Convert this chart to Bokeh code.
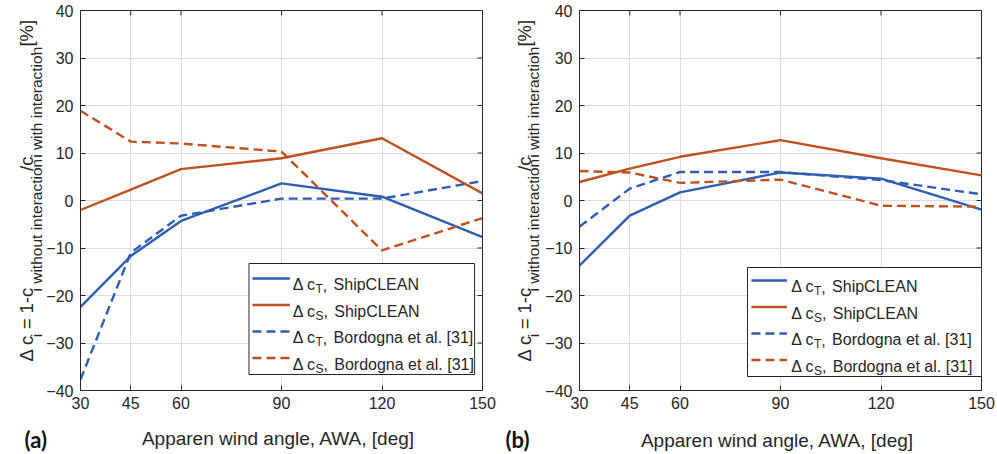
import numpy as np
from bokeh.plotting import figure
from bokeh.models import Range1d, FixedTicker, Label, BoxAnnotation, Arrow
from bokeh.layouts import row, column
from bokeh.embed import file_html
from bokeh.resources import INLINE

# ---------------- data ----------------
awa = [30, 45, 60, 90, 120, 150]
x_ticks = [30, 45, 60, 90, 120, 150]
y_ticks = [-40, -30, -20, -10, 0, 10, 20, 30, 40]

# panel (a)
ct_shipclean_a = [-22.4, -11.7, -4.3, 3.6, 0.8, -7.7]
cs_shipclean_a = [-2.0, 2.3, 6.6, 8.9, 13.1, 1.5]
ct_bordogna_a = [-37.7, -11.0, -3.2, 0.4, 0.4, 4.1]
cs_bordogna_a = [18.9, 12.4, 12.0, 10.3, -10.5, -3.7]

# panel (b)
ct_shipclean_b = [-13.7, -3.2, 1.7, 5.9, 4.6, -1.9]
cs_shipclean_b = [3.9, 6.7, 9.2, 12.7, 8.9, 5.3]
ct_bordogna_b = [-5.5, 2.5, 6.0, 6.0, 4.3, 1.3]
cs_bordogna_b = [6.2, 5.9, 3.7, 4.4, -1.1, -1.3]

legend_subs = ["T", "S", "T", "S"]
legend_sources = ["ShipCLEAN", "ShipCLEAN", "Bordogna et al. [31]", "Bordogna et al. [31]"]
panel_tags = ["(a)", "(b)"]
x_title = "Apparen wind angle, AWA, [deg]"
y_title_parts = [("Δ c", "main"), ("i", "sub"), (" = 1-c", "main"),
                 ("i without interaction", "sub"), ("/c", "main"),
                 ("i with interaction", "sub"), (", [%]", "main")]

# ---------------- style ----------------
BLUE = "#2f5db4"
RED = "#c0501f"
DARK = "#262626"
GRID = "#dcdcdc"
FONT = "Liberation Sans"
LW = 2.4
DASH = "9 5"
TOP_H = 418          # height of the row that holds the two panels
BOT_H = 35           # strip below, for the x titles and panel tags
TOTAL_W = 996
FRAME_TOP = 10
FRAME_BOTTOM = 390

ARIAL = {' ': 278, 'Δ': 667, 'c': 500, 'i': 222, '=': 584, '1': 556, '-': 333, '/': 278,
         'w': 722, 't': 278, 'h': 556, 'o': 556, 'u': 556, 'n': 556, 'e': 556, 'r': 333,
         'a': 556, ',': 278, '[': 278, '%': 889, ']': 278, 'T': 611, 'S': 667, 'l': 222,
         '.': 278, 'B': 667, 'd': 556, 'g': 556, '3': 556, 'p': 556, 'C': 722, 'L': 556,
         'E': 667, 'A': 667, 'N': 722, 'W': 944}


def tw(s, size):
    return sum(ARIAL.get(ch, 556) for ch in s) * size / 1000.0


def blank(left, width, top, height):
    """A figure whose frame is the whole canvas; data units = page pixels."""
    f = figure(width=width, height=height, output_backend="svg", toolbar_location=None,
               x_range=Range1d(left, left + width), y_range=Range1d(top + height, top),
               x_axis_type=None, y_axis_type=None, min_border=0,
               background_fill_color="white", border_fill_color="white")
    f.outline_line_color = None
    f.grid.visible = False
    return f


def ytitle_fig(left, width, main_x, sub_x):
    f = blank(left, width, 0, TOP_H)
    MAIN, SUB = 18.5, 15.5
    total = sum(tw(s, MAIN if k == "main" else SUB) for s, k in y_title_parts)
    pos = (FRAME_TOP + FRAME_BOTTOM) / 2.0 + total / 2.0
    for s, k in y_title_parts:
        size = MAIN if k == "main" else SUB
        stripped = s.lstrip(" ")
        lead = tw(s[:len(s) - len(stripped)], size)
        xb = main_x if k == "main" else sub_x
        f.add_layout(Label(x=xb, y=pos - lead, text=stripped, angle=np.pi / 2,
                           text_font=FONT, text_font_size=f"{size}px", text_color=DARK,
                           text_baseline="alphabetic", text_align="left"))
        pos -= tw(s, size)
    return f


def make_panel(page_left, width, frame_left, frame_right, series, legend_geom):
    p = figure(width=width, height=TOP_H, output_backend="svg", toolbar_location=None,
               x_range=Range1d(30, 150), y_range=Range1d(-40, 40),
               min_border_left=frame_left - page_left,
               min_border_right=page_left + width - frame_right,
               min_border_top=FRAME_TOP,
               min_border_bottom=TOP_H - FRAME_BOTTOM,
               background_fill_color="white", border_fill_color="white")
    p.outline_line_color = DARK
    p.outline_line_width = 1

    fw = float(frame_right - frame_left)
    fh = float(FRAME_BOTTOM - FRAME_TOP)

    def dx(px):
        return 30 + (px - frame_left) / fw * 120.0

    def dy(py):
        return 40 - (py - FRAME_TOP) / fh * 80.0

    xax = p.below[0]
    yax = p.left[0]
    xax.ticker = FixedTicker(ticks=x_ticks)
    yax.ticker = FixedTicker(ticks=y_ticks)
    p.xgrid.ticker = FixedTicker(ticks=x_ticks)
    p.ygrid.ticker = FixedTicker(ticks=y_ticks)
    p.grid.grid_line_color = GRID
    p.grid.grid_line_width = 1

    for ax in (xax, yax):
        ax.major_tick_in = 5
        ax.major_tick_out = 0
        ax.minor_tick_in = 0
        ax.minor_tick_out = 0
        ax.axis_line_color = DARK
        ax.major_tick_line_color = DARK
        ax.major_label_text_font = FONT
        ax.major_label_text_color = DARK
        ax.major_label_text_font_size = "16px"
    xax.major_label_standoff = 6
    yax.major_label_standoff = 7

    # inner ticks on the top and right edges of the box
    tx = 5.0 / fh * 80.0
    ty = 5.0 / fw * 120.0
    p.segment(x0=x_ticks, y0=[40] * len(x_ticks), x1=x_ticks, y1=[40 - tx] * len(x_ticks),
              line_color=DARK, line_width=1)
    p.segment(x0=[150] * len(y_ticks), y0=y_ticks, x1=[150 - ty] * len(y_ticks), y1=y_ticks,
              line_color=DARK, line_width=1)

    colors = [BLUE, RED, BLUE, RED]
    dashes = ["solid", "solid", DASH, DASH]
    for ys, c, d in zip(series, colors, dashes):
        p.line(awa, ys, line_color=c, line_width=LW, line_dash=d)

    # legend (manual, for subscripts)
    (bl, br, bt, bb), rows_y, lx0, lx1, tx0 = legend_geom
    p.add_layout(BoxAnnotation(left=dx(bl), right=dx(br), top=dy(bt), bottom=dy(bb),
                               fill_color="white", fill_alpha=1.0,
                               line_color=DARK, line_width=1, line_alpha=1.0))
    for i, base in enumerate(rows_y):
        mid = base - 6
        p.add_layout(Arrow(end=None, x_start=dx(lx0), y_start=dy(mid), x_end=dx(lx1), y_end=dy(mid),
                           line_color=colors[i], line_width=LW, line_dash=dashes[i]))
        x = tx0
        p.add_layout(Label(x=dx(x), y=dy(base), text="Δ c", text_font=FONT, text_font_size="16px",
                           text_color=DARK, text_baseline="alphabetic", text_align="left"))
        x += tw("Δ c", 16)
        p.add_layout(Label(x=dx(x), y=dy(base + 4.5), text=legend_subs[i], text_font=FONT,
                           text_font_size="12px", text_color=DARK,
                           text_baseline="alphabetic", text_align="left"))
        x += tw(legend_subs[i], 12)
        p.add_layout(Label(x=dx(x), y=dy(base), text=",", text_font=FONT, text_font_size="16px",
                           text_color=DARK, text_baseline="alphabetic", text_align="left"))
        x += tw(", ", 16) + 2
        p.add_layout(Label(x=dx(x), y=dy(base), text=legend_sources[i], text_font=FONT,
                           text_font_size="16px", text_color=DARK,
                           text_baseline="alphabetic", text_align="left"))
    return p


# left half
yt_a = ytitle_fig(0, 43, 26, 35.5)
pa = make_panel(43, 453, 74, 482,
                [ct_shipclean_a, cs_shipclean_a, ct_bordogna_a, cs_bordogna_a],
                ((245, 474, 263, 374), [284, 310.5, 337, 363.5], 248.5, 286.5, 289.5))
# right half
yt_b = ytitle_fig(496, 46, 523.5, 533)
pb = make_panel(542, 454, 573, 981,
                [ct_shipclean_b, cs_shipclean_b, ct_bordogna_b, cs_bordogna_b],
                ((743.5, 981, 267, 376), [286, 312.5, 339, 365.5], 747.5, 783.5, 788))

# bottom strip: x titles and panel tags
bot = blank(0, TOTAL_W, TOP_H, BOT_H)
for cx, base in ((278, 438), (777, 440)):
    bot.add_layout(Label(x=cx, y=base, text=x_title, text_font=FONT, text_font_size="19px",
                         text_color=DARK, text_baseline="alphabetic", text_align="center"))
for tag, tx_ in zip(panel_tags, (24, 505)):
    bot.add_layout(Label(x=tx_, y=439, text=tag, text_font="Lato", text_font_style="bold",
                         text_font_size="22px", text_color="#111111",
                         text_baseline="alphabetic", text_align="left"))

layout = column(row(yt_a, pa, yt_b, pb), bot)
open("out.html", "w").write(file_html(layout, INLINE))
